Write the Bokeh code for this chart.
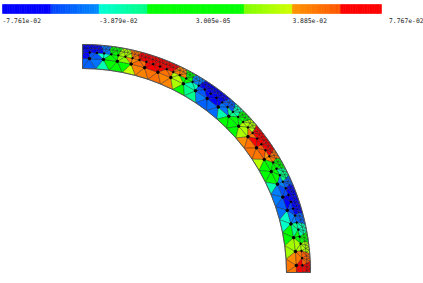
import math
from bokeh.plotting import figure
from bokeh.embed import file_html
from bokeh.resources import INLINE
from bokeh.core.properties import value

tick_values = [-7.761e-02, -3.879e-02, 3.005e-05, 3.885e-02, 7.767e-02]
tick_labels = ["-7.761e-02", "-3.879e-02", "3.005e-05", "3.885e-02", "7.767e-02"]
bin_colors = [
    ((0, 0, 255), (0, 0, 255)),
    ((0, 65, 255), (0, 140, 255)),
    ((0, 255, 215), (0, 255, 130)),
    ((0, 255, 0), (0, 255, 0)),
    ((0, 255, 0), (0, 255, 0)),
    ((125, 255, 0), (210, 255, 0)),
    ((255, 150, 0), (255, 85, 0)),
    ((255, 0, 0), (255, 0, 0)),
]
# field values per 2.5 degree sector, from the 90 degree end to the 0 degree end
inner_values = [-0.050, -0.045, -0.030, -0.008, 0.015, 0.036, 0.045, 0.050, 0.050, 0.044, 0.030, 0.005,
                -0.022, -0.042, -0.050, -0.047, -0.030, -0.012, 0.010, 0.030, 0.042, 0.050, 0.048, 0.033,
                0.008, -0.012, -0.030, -0.043, -0.050, -0.046, -0.036, -0.016, 0.005, 0.028, 0.042, 0.048]
middle_values = [-0.060, -0.052, -0.036, -0.008, 0.022, 0.042, 0.052, 0.060, 0.060, 0.050, 0.033, 0.003,
                 -0.032, -0.052, -0.060, -0.060, -0.045, -0.022, 0.000, 0.030, 0.048, 0.060, 0.058, 0.040,
                 0.005, -0.018, -0.040, -0.055, -0.060, -0.058, -0.042, -0.022, 0.000, 0.030, 0.048, 0.060]
outer_values = [-0.070, -0.065, -0.045, -0.010, 0.030, 0.050, 0.065, 0.072, 0.070, 0.060, 0.045, 0.010,
                -0.040, -0.065, -0.072, -0.068, -0.052, -0.030, 0.000, 0.030, 0.060, 0.070, 0.068, 0.050,
                0.010, -0.020, -0.050, -0.065, -0.072, -0.068, -0.050, -0.030, -0.005, 0.030, 0.055, 0.070]
# mesh rows: radius, number of segments, staggered
mesh_rows = [(204, 24, False), (214, 24, True), (220, 48, False), (224.5, 96, True), (228, 96, False)]

V_MIN, V_MAX = tick_values[0], tick_values[-1]
BIN = (V_MAX - V_MIN) / 8


def colour(v):
    t = (v - V_MIN) / BIN
    i = max(0, min(7, int(t)))
    f = max(0.0, min(1.0, t - i))
    a, b = bin_colors[i]
    return "#%02x%02x%02x" % tuple(round(a[k] + (b[k] - a[k]) * f) for k in range(3))


def row_nodes(r, n, stagger):
    if stagger:
        angs = [90.0] + [90 - (i + 0.5) * 90 / n for i in range(n)] + [0.0]
    else:
        angs = [90 - i * 90 / n for i in range(n + 1)]
    return [(r, a) for a in angs]


def to_xy(node):
    r, a = node
    return r * math.cos(math.radians(a)), r * math.sin(math.radians(a))


rows = [row_nodes(*row) for row in mesh_rows]
xs, ys, fills = [], [], []
for lower, upper in zip(rows[:-1], rows[1:]):
    i = j = 0
    while i < len(lower) - 1 or j < len(upper) - 1:
        take_lower = j == len(upper) - 1 or (i < len(lower) - 1 and lower[i + 1][1] >= upper[j + 1][1])
        if take_lower:
            tri = [lower[i], lower[i + 1], upper[j]]
            i += 1
        else:
            tri = [lower[i], upper[j + 1], upper[j]]
            j += 1
        rc = sum(n[0] for n in tri) / 3
        ac = sum(n[1] for n in tri) / 3
        sector = min(35, int((90 - ac) / 2.5))
        field = inner_values if rc < 212 else middle_values if rc < 219 else outer_values
        pts = [to_xy(n) for n in tri]
        xs.append([q[0] for q in pts])
        ys.append([q[1] for q in pts])
        fills.append(colour(field[sector]))

p = figure(width=423, height=283, x_range=(-82, 341), y_range=(-11, 272),
           output_backend="svg", toolbar_location=None, min_border=0)
p.axis.visible = False
p.grid.visible = False
p.outline_line_color = None

p.patches(xs, ys, fill_color=fills, line_color="#111111", line_width=0.45, line_alpha=0.75)

mx = [to_xy(n)[0] for n in rows[1][1:-1]]
my = [to_xy(n)[1] for n in rows[1][1:-1]]
p.scatter(mx, my, size=2.5, color="#000000")
mx2 = [to_xy(n)[0] for n in rows[2][1:-1]]
my2 = [to_xy(n)[1] for n in rows[2][1:-1]]
p.scatter(mx2, my2, size=1.5, color="#000000")

# outline of the ring
arc_o = [to_xy(n) for n in rows[-1]]
arc_i = [to_xy(n) for n in rows[0]]
ring = arc_o + arc_i[::-1] + arc_o[:1]
p.line([q[0] for q in ring], [q[1] for q in ring], line_color="#555555", line_width=1.0)


# colour bar: value to position on the bar
def bar_x(v):
    return -80 + (v - V_MIN) / (V_MAX - V_MIN) * 386.5


bar_left, bar_right, bar_col = [], [], []
steps = 160
for k in range(steps):
    v = V_MIN + (V_MAX - V_MIN) * (k + 0.5) / steps
    l = bar_x(V_MIN + (V_MAX - V_MIN) * k / steps)
    r = bar_x(V_MIN + (V_MAX - V_MIN) * (k + 1) / steps)
    if l >= 299:
        break
    bar_left.append(l)
    bar_right.append(min(r, 299))
    bar_col.append(colour(v))
p.quad(left=bar_left, right=bar_right, bottom=259, top=268, fill_color=bar_col, line_color=bar_col, line_width=0.6)

p.text(x=[bar_x(v) for v in tick_values], y=[252] * 5, text=tick_labels,
       text_font=value("DejaVu Sans Mono"), text_font_size="6.4px", text_color="#222222",
       text_align="left", text_baseline="middle")

open("out.html", "w").write(file_html(p, INLINE))
